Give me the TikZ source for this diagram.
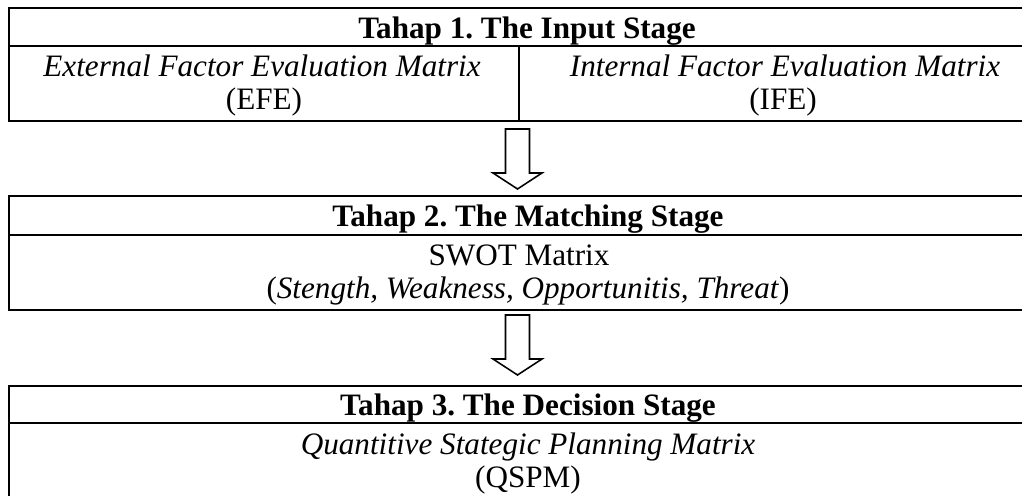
\documentclass[tikz,border=0pt]{standalone}
\usepackage{fontspec}
\setmainfont{Liberation Serif}
\usetikzlibrary{positioning}
\frenchspacing

\begin{document}
\begin{tikzpicture}[x=0.385pt, y=-0.385pt, line width=0.5pt,
  headtxt/.style={anchor=base, inner sep=0pt, font=\fontsize{12}{14}\selectfont\bfseries},
  celltxt/.style={anchor=base, inner sep=0pt, font=\fontsize{12}{14}\selectfont},
  blockarr/.style={draw, line width=0.6pt, line join=miter, fill=white}]
  \useasboundingbox (0,0) rectangle (1022,496);
  \clip (0,0) rectangle (1022,496);

  % stage 1: input
  \draw (9,8) rectangle (1048,121);
  \draw (9,46) -- (1048,46);
  \draw (519,46) -- (519,121);
  \node[headtxt] (head1) at (527,39) {Tahap 1. The Input Stage};
  \node[celltxt] (efe) at (262,77) {\textit{External Factor Evaluation Matrix}};
  \node[celltxt] (efeabbr) at (264,110) {(EFE)};
  \node[celltxt] (ife) at (785,77) {\textit{Internal Factor Evaluation Matrix}};
  \node[celltxt] (ifeabbr) at (783,110) {(IFE)};

  % arrow 1 -> 2
  \coordinate (arr1) at (517.5,129);
  \draw[blockarr] (arr1) ++(-12,0) -- ++(24,0) -- ++(0,44) -- ++(12.5,0)
    -- ++(-24.5,16) -- ++(-24.5,-16) -- ++(12.5,0) -- cycle;

  % stage 2: matching
  \draw (9,196) rectangle (1048,310);
  \draw (9,235) -- (1048,235);
  \node[headtxt] (head2) at (528,227) {Tahap 2. The Matching Stage};
  \node[celltxt] (swot) at (519,266) {SWOT Matrix};
  \node[celltxt] (swotlist) at (528,299)
       {(\textit{Stength, Weakness, Opportunitis, Threat})};

  % arrow 2 -> 3
  \coordinate (arr2) at (517.5,315);
  \draw[blockarr] (arr2) ++(-12,0) -- ++(24,0) -- ++(0,44) -- ++(12.5,0)
    -- ++(-24.5,16) -- ++(-24.5,-16) -- ++(12.5,0) -- cycle;

  % stage 3: decision
  \draw (9,386) rectangle (1048,500);
  \draw (9,423) -- (1048,423);
  \node[headtxt] (head3) at (528,416) {Tahap 3. The Decision Stage};
  \node[celltxt] (qspm) at (528,454) {\textit{Quantitive Stategic Planning Matrix}};
  \node[celltxt] (qspmabbr) at (528,487) {(QSPM)};
\end{tikzpicture}
\end{document}
